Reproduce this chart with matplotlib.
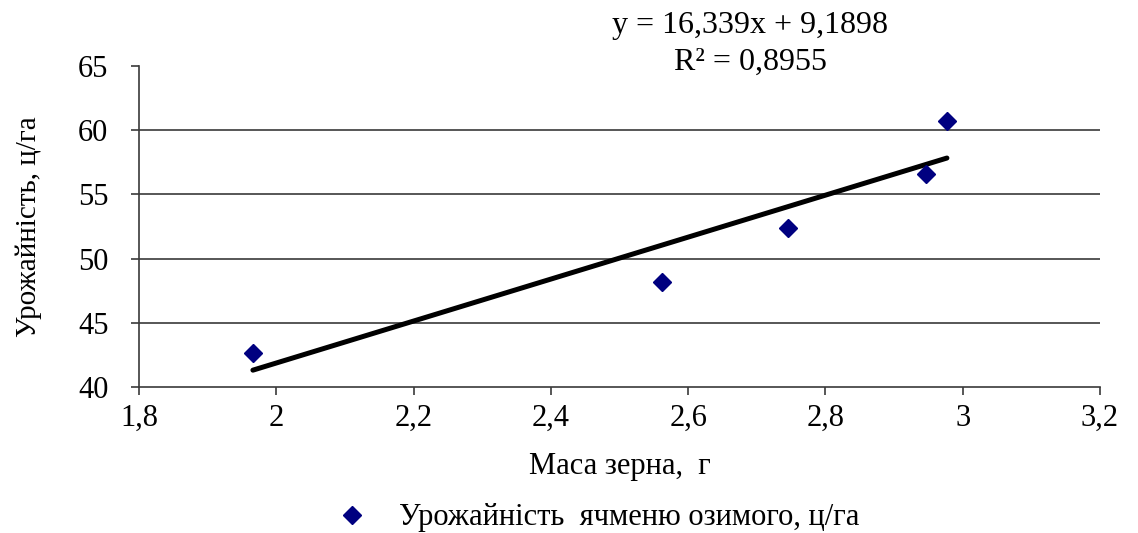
import matplotlib
matplotlib.use("Agg")
import matplotlib.pyplot as plt
import numpy as np

plt.rcParams['font.family'] = ['Liberation Serif', 'DejaVu Serif']

# Grain mass (g) and winter barley yield (c/ha)
grain_mass = [1.966, 2.562, 2.745, 2.947, 2.977]
yield_cha = [42.65, 48.2, 52.35, 56.6, 60.7]

# Linear trend as stated in the equation label
slope = 16.339
intercept = 9.1898
r_squared = 0.8955

x_ticks = [1.8, 2.0, 2.2, 2.4, 2.6, 2.8, 3.0, 3.2]
x_tick_labels = ['1,8', '2', '2,2', '2,4', '2,6', '2,8', '3', '3,2']
y_ticks = [40, 45, 50, 55, 60, 65]

fig = plt.figure(figsize=(11.38, 5.33), dpi=100)
ax = fig.add_axes([0.1221, 0.2739, 0.8445, 0.6023])

ax.set_xlim(1.8, 3.2)
ax.set_ylim(40, 65)

for yv in y_ticks[1:-1]:
    ax.axhline(yv, color='#3a3a3a', lw=1.2, zorder=1)

xs = np.array([min(grain_mass), max(grain_mass)])
ax.plot(xs, slope * xs + intercept, color='black', lw=3.6,
        solid_capstyle='round', zorder=2)

ax.plot(grain_mass, yield_cha, linestyle='none', marker='D', markersize=9.5,
        color='#000080', zorder=3,
        label='Урожайність  ячменю озимого, ц/га')

ax.set_xticks(x_ticks)
ax.set_xticklabels(x_tick_labels)
ax.set_yticks(y_ticks)
ax.tick_params(axis='both', direction='out', length=6, width=1.2,
               color='#3a3a3a', labelsize=22)
ax.tick_params(axis='y', pad=16)
ax.tick_params(axis='x', pad=6)

for side in ['top', 'right']:
    ax.spines[side].set_visible(False)
for side in ['left', 'bottom']:
    ax.spines[side].set_color('#3a3a3a')
    ax.spines[side].set_linewidth(1.2)

ax.set_xlabel('Маса зерна,  г', fontsize=22, labelpad=14)
ax.set_ylabel('Урожайність, ц/га', fontsize=21, labelpad=26)

eq_text = f'y = {slope:.3f}x + {intercept:.4f}'.replace('.', ',')
r2_text = f'R² = {r_squared:.4f}'.replace('.', ',')
fig.text(750 / 1138, 1 - 26 / 533, eq_text, ha='center', va='center', fontsize=23)
fig.text(750 / 1138, 1 - 62 / 533, r2_text, ha='center', va='center', fontsize=23)

fig.legend(loc='center', bbox_to_anchor=(594 / 1138, 1 - 518 / 533),
           frameon=False, fontsize=22, handletextpad=0.8, handlelength=1.5)

fig.savefig('out.png', dpi=100, facecolor='white')
